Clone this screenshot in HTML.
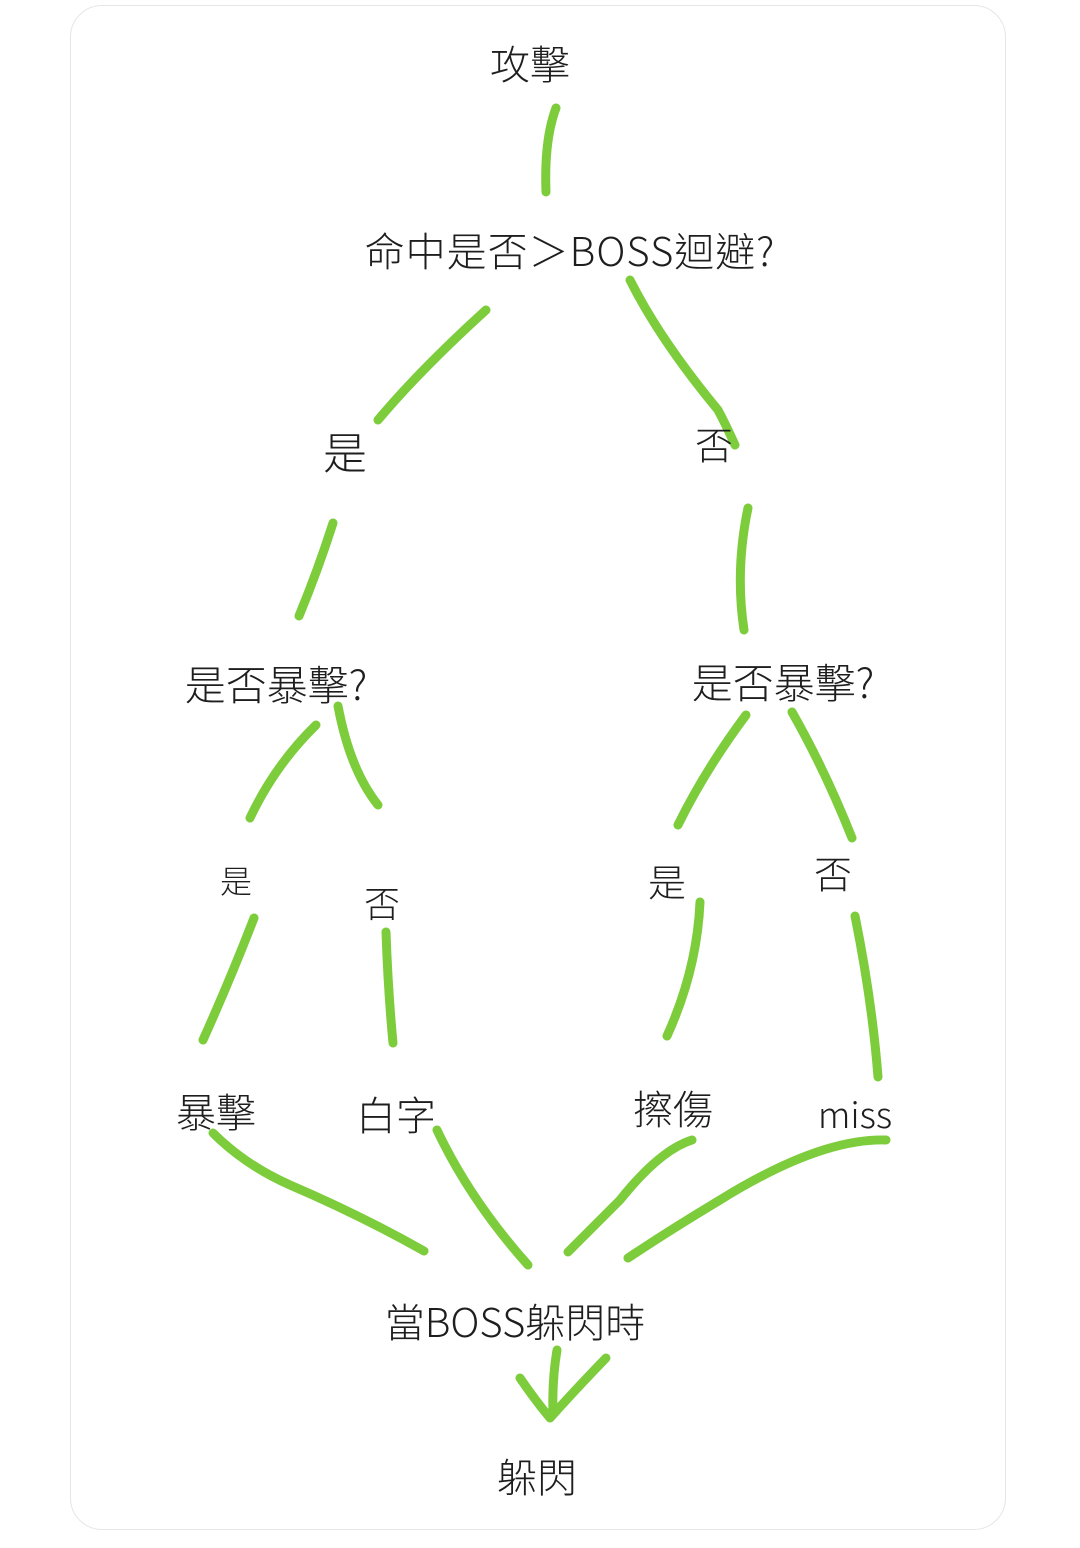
<!DOCTYPE html>
<html><head><meta charset="utf-8">
<style>
html,body{margin:0;padding:0;background:#fff;}
body{width:1080px;height:1548px;position:relative;overflow:hidden;font-family:"Liberation Sans","Noto Sans CJK TC",sans-serif;}
.card{position:absolute;left:70px;top:5px;width:936px;height:1525px;border:1.5px solid #e6e6e6;border-radius:32px;box-sizing:border-box;}
.t{position:absolute;transform:translate(-50%,-50%);white-space:nowrap;color:#1e1e1e;font-weight:300;font-family:"Noto Sans CJK TC","Liberation Sans",sans-serif;}
svg{position:absolute;left:0;top:0;}
</style></head><body>
<div class="card"></div>
<svg width="1080" height="1548" fill="none" stroke="#7dcc3c" stroke-width="9" stroke-linecap="round" stroke-linejoin="round">
<path d="M556,108 Q544,140 546,192"/>
<path d="M486,310 Q420,370 378,420"/>
<path d="M630,280 Q660,340 718,410 Q726,425 735,445"/>
<path d="M333,523 Q318,570 299,616"/>
<path d="M748,508 Q735,570 744,630"/>
<path d="M316,725 Q275,765 250,818"/>
<path d="M338,706 Q350,770 378,805"/>
<path d="M746,715 Q705,770 678,825"/>
<path d="M792,712 Q825,770 852,838"/>
<path d="M254,918 Q230,980 203,1040"/>
<path d="M386,932 Q388,990 393,1043"/>
<path d="M700,902 Q697,970 667,1036"/>
<path d="M855,916 Q872,1000 878,1077"/>
<path d="M213,1133 Q245,1165 290,1185 Q360,1215 424,1251"/>
<path d="M437,1130 Q470,1200 528,1265"/>
<path d="M692,1140 Q660,1150 620,1200 Q590,1230 568,1252"/>
<path d="M886,1140 Q820,1138 720,1200 Q670,1230 628,1258"/>
<path d="M557,1350 Q552,1380 553,1412"/>
<path d="M520,1378 Q535,1400 550,1418 Q575,1390 606,1358"/>
</svg>
<div class="t" style="left:570px;top:249px;font-size:40px;letter-spacing:1px;">命中是否＞BOSS迴避?</div>
<div class="t" style="left:530px;top:62px;font-size:40px;">攻擊</div>
<div class="t" style="left:345px;top:450px;font-size:44px;">是</div>
<div class="t" style="left:714px;top:443px;font-size:38px;">否</div>
<div class="t" style="left:276px;top:682px;font-size:41px;">是否暴擊?</div>
<div class="t" style="left:783px;top:680px;font-size:41px;">是否暴擊?</div>
<div class="t" style="left:236px;top:880px;font-size:32px;">是</div>
<div class="t" style="left:382px;top:902px;font-size:36px;">否</div>
<div class="t" style="left:667px;top:880px;font-size:38px;">是</div>
<div class="t" style="left:833px;top:872px;font-size:38px;">否</div>
<div class="t" style="left:216px;top:1110px;font-size:40px;">暴擊</div>
<div class="t" style="left:396px;top:1113px;font-size:40px;">白字</div>
<div class="t" style="left:673px;top:1107px;font-size:40px;">擦傷</div>
<div class="t" style="left:855px;top:1113px;font-size:36px;">miss</div>
<div class="t" style="left:515px;top:1320px;font-size:40px;">當BOSS躲閃時</div>
<div class="t" style="left:537px;top:1475px;font-size:40px;">躲閃</div>
</body></html>
